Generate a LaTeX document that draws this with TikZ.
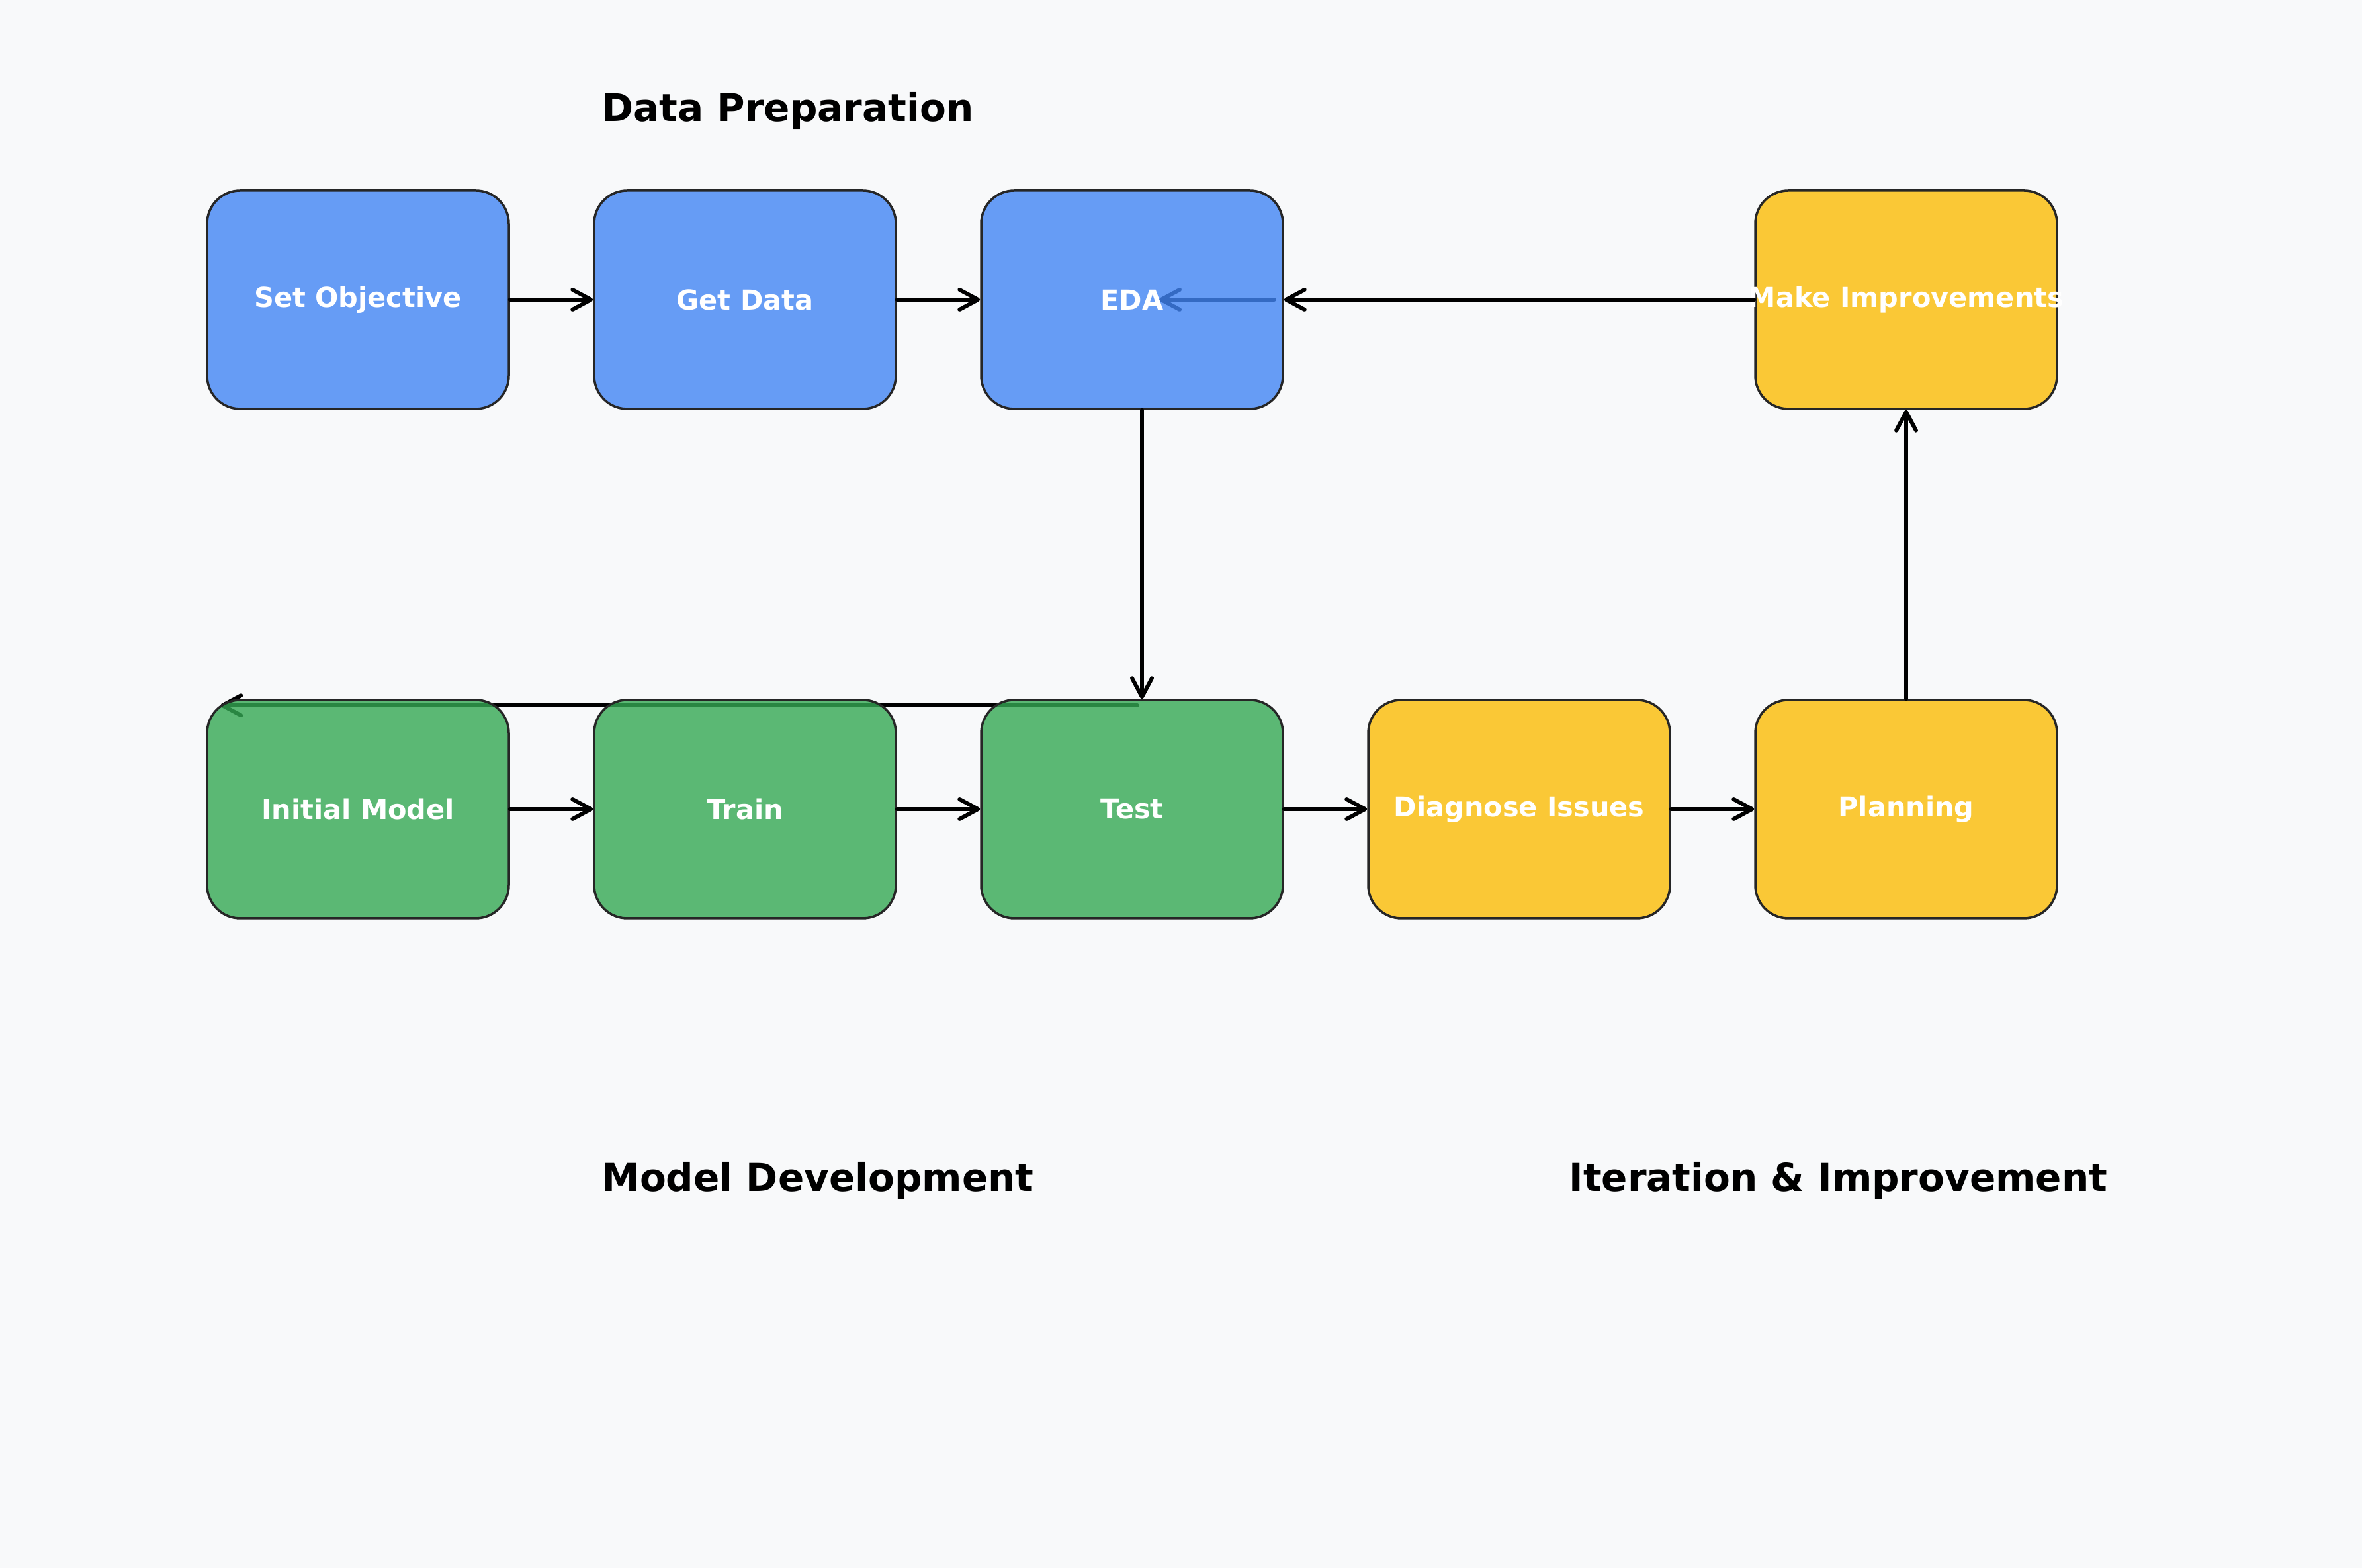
\documentclass[tikz,border=0pt]{standalone}
\usepackage{fontspec}
\setmainfont{DejaVu Sans}
\usepackage{tikz}
\usetikzlibrary{arrows.meta,positioning,calc}
\pgfdeclarelayer{background}
\pgfdeclarelayer{page}
\pgfsetlayers{page,background,main}
\definecolor{pageBg}{HTML}{F8F9FA}
\definecolor{prepBlue}{HTML}{4285F4}
\definecolor{modelGreen}{HTML}{34A853}
\definecolor{iterYellow}{HTML}{FBBC05}
\tikzset{
  stage/.style={draw=black!85, line width=1pt, rounded corners=0.5cm,
    fill opacity=0.8, text opacity=1, text=white, inner sep=0pt,
    minimum width=4.56cm, minimum height=3.3cm,
    execute at begin node=\hbox to 0pt\bgroup\hss,
    execute at end node=\hss\egroup,
    font=\bfseries\fontsize{11.8}{14}\selectfont},
  flow/.style={line width=1.7pt, line cap=round,
    -{Straight Barb[length=2.8mm,width=3mm,round]}},
  phase/.style={anchor=base west, font=\bfseries\fontsize{16.5}{20}\selectfont}
}

\begin{document}
\begin{tikzpicture}
\begin{pgfonlayer}{page}
\fill[pageBg] (0,0) rectangle (35.7,23.7);
\end{pgfonlayer}
\useasboundingbox (0,0) rectangle (35.7,23.7);

% top row
\node[stage, fill=prepBlue] at (5.41, 19.17) (setobj) {Set Objective};
\node[stage, fill=prepBlue] at (11.26, 19.17) (getdata) {Get Data};
\node[stage, fill=prepBlue] at (17.11, 19.17) (eda) {EDA};
\node[stage, fill=iterYellow] at (28.81, 19.17) (makeimp) {Make Improvements};

% bottom row
\node[stage, fill=modelGreen] at (5.41, 11.47) (initmodel) {Initial Model};
\node[stage, fill=modelGreen] at (11.26, 11.47) (train) {Train};
\node[stage, fill=modelGreen] at (17.11, 11.47) (test) {Test};
\node[stage, fill=iterYellow] at (22.96, 11.47) (diagnose) {Diagnose Issues};
\node[stage, fill=iterYellow] at (28.81, 11.47) (planning) {Planning};

\draw[flow] (setobj) -- (getdata);
\draw[flow] (getdata) -- (eda);
\draw[flow] (makeimp) -- (eda);
\draw[flow] ($(eda.south)+(0.15,0)$) -- ($(test.north)+(0.15,0)$);
\draw[flow] (initmodel) -- (train);
\draw[flow] (train) -- (test);
\draw[flow] (test) -- (diagnose);
\draw[flow] (diagnose) -- (planning);
\draw[flow] (planning) -- (makeimp);

% lines that run under the boxes
\begin{pgfonlayer}{background}
\draw[flow] ($(eda.east)+(-0.15,0)$) -- ($(eda.center)+(0.41,0)$);
\draw[flow] ($(test.north)+(0.08,-0.1)$) -- ($(initmodel.north west)+(0.22,-0.1)$);
\end{pgfonlayer}

\node[phase] at (8.97, 21.86) (prep) {Data Preparation};
\node[phase] at (8.97, 5.69) (model) {Model Development};
\node[phase] at (23.59, 5.69) (iter) {Iteration \& Improvement};

\end{tikzpicture}
\end{document}
